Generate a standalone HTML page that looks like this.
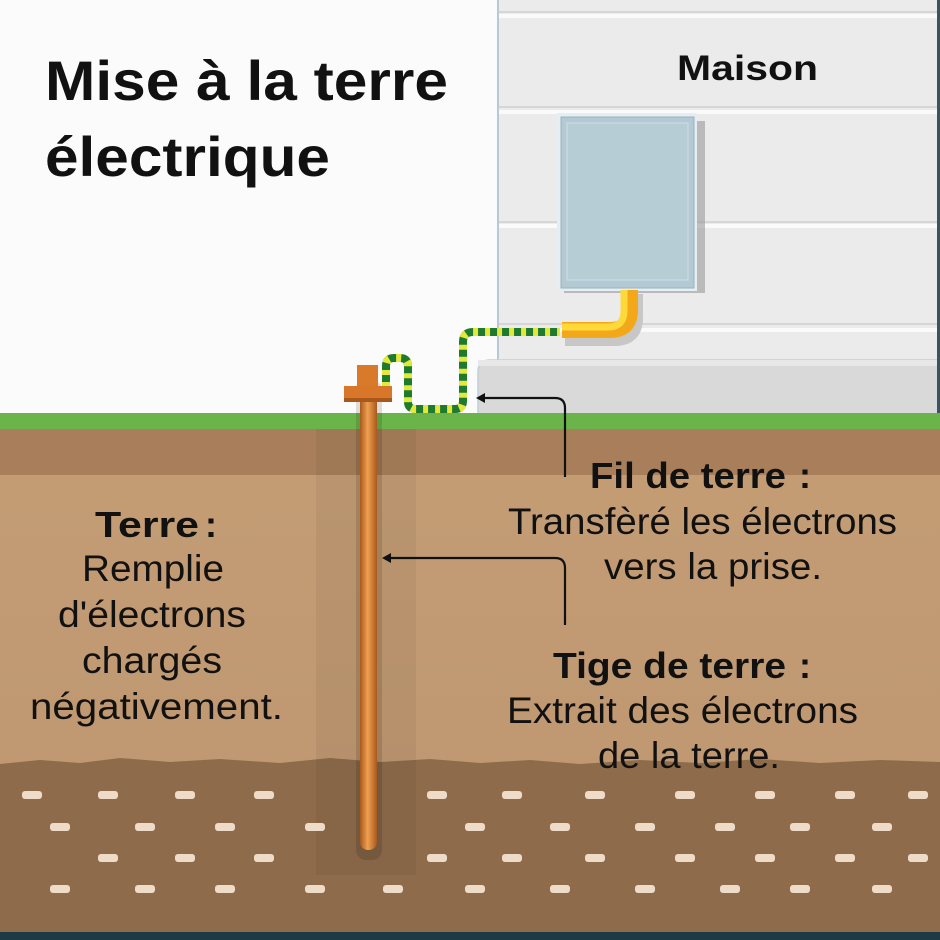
<!DOCTYPE html>
<html><head><meta charset="utf-8"><style>
html,body{margin:0;padding:0;width:940px;height:940px;overflow:hidden;background:#fff}
svg{display:block}
.b{font-family:"Liberation Sans",sans-serif;font-weight:bold;fill:#111}
.n{font-family:"Liberation Sans",sans-serif;fill:#111}
</style></head><body>
<svg width="940" height="940" viewBox="0 0 940 940" xmlns="http://www.w3.org/2000/svg">
<defs>
<linearGradient id="rod" x1="0" x2="1"><stop offset="0" stop-color="#a8581c"/><stop offset="0.45" stop-color="#f0a050"/><stop offset="1" stop-color="#a8581c"/></linearGradient>
<linearGradient id="soil" x1="0" y1="0" x2="0" y2="1"><stop offset="0" stop-color="#c49d75"/><stop offset="1" stop-color="#bd9670"/></linearGradient>
</defs>
<rect x="0" y="0" width="940" height="940" fill="#fbfbfb"/>
<rect x="497" y="0" width="443" height="415" fill="#ebebeb"/>
<rect x="497" y="0" width="2" height="362" fill="#b8c8d8"/>
<g fill="#d6d6d6"><rect x="499" y="11" width="440" height="2"/><rect x="499" y="106" width="440" height="2"/><rect x="499" y="221" width="440" height="2"/><rect x="499" y="323" width="440" height="2"/></g>
<g fill="#fafafa"><rect x="499" y="14" width="440" height="4"/><rect x="499" y="110" width="440" height="4"/><rect x="499" y="224" width="440" height="4"/><rect x="499" y="328" width="440" height="4"/></g>
<path d="M478 415 V372 Q478 360 490 360 H940 V415Z" fill="#d9d9d9" stroke="#c2cdd8" stroke-width="1.5"/>
<rect x="478" y="360" width="462" height="6" fill="#e8e8e8"/>
<rect x="937" y="0" width="3" height="415" fill="#3a5560"/>
<text class="b" x="677" y="80" font-size="35" textLength="141" lengthAdjust="spacingAndGlyphs">Maison</text>
<rect x="564" y="121" width="141" height="172" fill="#999" opacity="0.6"/>
<rect x="557" y="113" width="140" height="178" fill="#e6eef2"/>
<rect x="561" y="117" width="133" height="171" fill="#b3cad4" stroke="#9ab3bf" stroke-width="1"/>
<rect x="567" y="123" width="121" height="157" fill="#b6cdd6" stroke="#cfdfe6" stroke-width="1"/>
<path d="M562 334 H612 Q632 334 632 314 V290" fill="none" stroke="#c7c7c7" stroke-width="16" transform="translate(3,4)"/>
<path d="M562 330 H610 Q630 330 630 310 V290" fill="none" stroke="#f2a818" stroke-width="16"/>
<path d="M562 327 H608 Q624 327 624 311 V290" fill="none" stroke="#ffd93a" stroke-width="7"/>
<path d="M386 387 V366 Q386 358 394 358 H400 Q408 358 408 366 V402 Q408 409 416 409 H455 Q463 409 463 401 V342 Q463 332 473 332 H560" fill="none" stroke="#1e7a2c" stroke-width="8"/>
<path d="M386 387 V366 Q386 358 394 358 H400 Q408 358 408 366 V402 Q408 409 416 409 H455 Q463 409 463 401 V342 Q463 332 473 332 H560" fill="none" stroke="#e2e83c" stroke-width="8" stroke-dasharray="5 7"/>
<rect x="0" y="415" width="940" height="525" fill="url(#soil)"/>
<rect x="0" y="428" width="940" height="47" fill="#a87f5a"/>
<polygon points="0,764 40,760 80,763 120,758 170,762 220,759 280,763 330,758 380,762 430,759 480,763 530,760 580,764 640,760 700,763 760,759 820,763 880,760 940,762 940,932 0,932" fill="#8e6c4b"/>
<rect x="316" y="428" width="100" height="447" fill="#000" opacity="0.05"/>
<rect x="0" y="413" width="940" height="16" fill="#6ab44a"/>
<rect x="0" y="932" width="940" height="8" fill="#1d3a45"/>
<g fill="#efdcc8">
<rect x="22" y="791" width="20" height="8" rx="3"/><rect x="98" y="791" width="20" height="8" rx="3"/><rect x="175" y="791" width="20" height="8" rx="3"/><rect x="254" y="791" width="20" height="8" rx="3"/><rect x="427" y="791" width="20" height="8" rx="3"/><rect x="502" y="791" width="20" height="8" rx="3"/><rect x="585" y="791" width="20" height="8" rx="3"/><rect x="675" y="791" width="20" height="8" rx="3"/><rect x="755" y="791" width="20" height="8" rx="3"/><rect x="835" y="791" width="20" height="8" rx="3"/><rect x="908" y="791" width="20" height="8" rx="3"/>
<rect x="50" y="823" width="20" height="8" rx="3"/><rect x="135" y="823" width="20" height="8" rx="3"/><rect x="215" y="823" width="20" height="8" rx="3"/><rect x="305" y="823" width="20" height="8" rx="3"/><rect x="465" y="823" width="20" height="8" rx="3"/><rect x="550" y="823" width="20" height="8" rx="3"/><rect x="635" y="823" width="20" height="8" rx="3"/><rect x="715" y="823" width="20" height="8" rx="3"/><rect x="790" y="823" width="20" height="8" rx="3"/><rect x="872" y="823" width="20" height="8" rx="3"/>
<rect x="98" y="854" width="20" height="8" rx="3"/><rect x="175" y="854" width="20" height="8" rx="3"/><rect x="254" y="854" width="20" height="8" rx="3"/><rect x="427" y="854" width="20" height="8" rx="3"/><rect x="502" y="854" width="20" height="8" rx="3"/><rect x="585" y="854" width="20" height="8" rx="3"/><rect x="675" y="854" width="20" height="8" rx="3"/><rect x="755" y="854" width="20" height="8" rx="3"/><rect x="835" y="854" width="20" height="8" rx="3"/><rect x="908" y="854" width="20" height="8" rx="3"/>
<rect x="50" y="885" width="20" height="8" rx="3"/><rect x="135" y="885" width="20" height="8" rx="3"/><rect x="215" y="885" width="20" height="8" rx="3"/><rect x="305" y="885" width="20" height="8" rx="3"/><rect x="383" y="885" width="20" height="8" rx="3"/><rect x="465" y="885" width="20" height="8" rx="3"/><rect x="550" y="885" width="20" height="8" rx="3"/><rect x="635" y="885" width="20" height="8" rx="3"/><rect x="720" y="885" width="20" height="8" rx="3"/><rect x="790" y="885" width="20" height="8" rx="3"/><rect x="872" y="885" width="20" height="8" rx="3"/>
</g>
<rect x="356" y="380" width="26" height="480" rx="10" fill="#000" opacity="0.12"/>
<rect x="360" y="395" width="17" height="455" rx="8" fill="url(#rod)"/>
<rect x="357" y="365" width="21" height="30" fill="#d97a2a"/>
<rect x="344" y="386" width="48" height="16" fill="#d8772a"/>
<rect x="344" y="398" width="48" height="4" fill="#a8581c"/>
<g fill="none" stroke="#111" stroke-width="2.2">
<path d="M565 477 V408 Q565 398 555 398 H482"/>
<path d="M565 625 V568 Q565 558 555 558 H388"/>
</g>
<path d="M476 398 L485 393 L485 403Z" fill="#111"/>
<path d="M382 558 L391 553 L391 563Z" fill="#111"/>
<text class="b" x="45" y="100" font-size="56" textLength="403" lengthAdjust="spacingAndGlyphs">Mise à la terre</text>
<text class="b" x="45" y="176" font-size="56" textLength="285" lengthAdjust="spacingAndGlyphs">électrique</text>
<text class="b" x="590" y="488" font-size="36" textLength="196" lengthAdjust="spacingAndGlyphs">Fil de terre</text><text class="b" x="799" y="488" font-size="36">:</text>
<text class="n" x="508" y="534" font-size="37" textLength="389" lengthAdjust="spacingAndGlyphs">Transfèré les électrons</text>
<text class="n" x="604" y="579" font-size="37" textLength="218" lengthAdjust="spacingAndGlyphs">vers la prise.</text>
<text class="b" x="95" y="537" font-size="36" textLength="104" lengthAdjust="spacingAndGlyphs">Terre</text><text class="b" x="205" y="537" font-size="36">:</text>
<text class="n" x="82" y="581" font-size="37" textLength="142" lengthAdjust="spacingAndGlyphs">Remplie</text>
<text class="n" x="58" y="627" font-size="37" textLength="188" lengthAdjust="spacingAndGlyphs">d'électrons</text>
<text class="n" x="82" y="673" font-size="37" textLength="140" lengthAdjust="spacingAndGlyphs">chargés</text>
<text class="n" x="30" y="719" font-size="37" textLength="253" lengthAdjust="spacingAndGlyphs">négativement.</text>
<text class="b" x="553" y="678" font-size="36" textLength="233" lengthAdjust="spacingAndGlyphs">Tige de terre</text><text class="b" x="799" y="678" font-size="36">:</text>
<text class="n" x="507" y="723" font-size="37" textLength="351" lengthAdjust="spacingAndGlyphs">Extrait des électrons</text>
<text class="n" x="598" y="768" font-size="37" textLength="182" lengthAdjust="spacingAndGlyphs">de la terre.</text>
</svg>
</body></html>
